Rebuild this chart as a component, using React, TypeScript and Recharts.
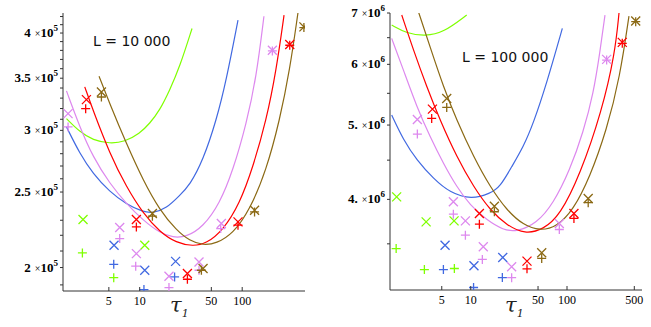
import { ComposedChart, Line, Scatter, XAxis, YAxis } from "recharts";

type P = [number, number];

const GREEN = "#7fff00";
const BLUE = "#4169e1";
const VIOLET = "#dd88ee";
const RED = "#ff0000";
const BROWN = "#8b6914";
const AXIS = "#333";

// ---- L = 10 000 ----
const green10kCurve: P[] = [[1.93, 3.106e5], [2.6, 2.987e5], [3.5, 2.914e5], [5.1, 2.885e5], [7.14, 2.9e5], [10, 2.972e5], [12.5, 3.061e5], [15.7, 3.184e5], [19.6, 3.378e5], [24.6, 3.62e5], [32.4, 4.054e5]];
const blue10kCurve: P[] = [[1.93, 3.031e5], [2.6, 2.801e5], [3.5, 2.64e5], [5.1, 2.501e5], [7.41, 2.412e5], [10.8, 2.357e5], [13.5, 2.35e5], [18.2, 2.381e5], [24.6, 2.476e5], [30.7, 2.55e5], [41.5, 2.746e5], [56, 3.091e5], [70, 3.479e5], [91, 4.155e5]];
const violet10kCurve: P[] = [[1.93, 3.371e5], [2.6, 3.031e5], [3.5, 2.773e5], [5.1, 2.563e5], [7.41, 2.416e5], [10.8, 2.3e5], [15.7, 2.216e5], [21.1, 2.185e5], [28.5, 2.189e5], [41.5, 2.255e5], [60.3, 2.416e5], [81.4, 2.666e5], [110, 3.061e5], [137.5, 3.514e5], [163, 4.204e5]];
const red10kCurve: P[] = [[2.91, 3.412e5], [3.5, 3.184e5], [5.1, 2.801e5], [7.41, 2.538e5], [10.8, 2.346e5], [15.7, 2.222e5], [22.8, 2.151e5], [33.1, 2.13e5], [44.7, 2.147e5], [65, 2.233e5], [94.5, 2.416e5], [127.5, 2.693e5], [172, 3.091e5], [215, 3.584e5], [256, 4.217e5]];
const brown10kCurve: P[] = [[4.01, 3.521e5], [5.1, 3.247e5], [7.41, 2.885e5], [10.8, 2.588e5], [15.7, 2.369e5], [22.8, 2.233e5], [30.7, 2.164e5], [41.5, 2.136e5], [56, 2.147e5], [81.4, 2.211e5], [118, 2.369e5], [172, 2.666e5], [232, 3.091e5], [291, 3.584e5], [350, 4.246e5]];

const green10kX: P[] = [[2.8, 2.305e5], [11.2, 2.136e5]];
const green10kP: P[] = [[2.76, 2.088e5], [5.58, 1.941e5]];
const blue10kX: P[] = [[5.62, 2.136e5], [11.2, 1.984e5], [22.4, 2.037e5]];
const blue10kP: P[] = [[5.58, 2.019e5], [11, 1.874e5], [21.9, 1.945e5]];
const violet10kX: P[] = [[2, 3.152e5], [6.38, 2.251e5], [9.28, 2.084e5], [19.3, 1.949e5], [37.9, 2.033e5], [62.6, 2.278e5], [197, 3.802e5]];
const violet10kP: P[] = [[2, 3.031e5], [6.38, 2.179e5], [9.14, 2.008e5], [19.3, 1.885e5], [37.9, 1.984e5], [61.7, 2.244e5], [197, 3.794e5]];
const red10kX: P[] = [[3.02, 3.285e5], [9.28, 2.305e5], [29.2, 1.965e5], [91, 2.289e5], [291, 3.866e5]];
const red10kP: P[] = [[2.97, 3.199e5], [9.28, 2.255e5], [29.2, 1.932e5], [91, 2.267e5], [291, 3.858e5]];
const brown10kX: P[] = [[4.23, 3.361e5], [13.3, 2.346e5], [41.5, 1.994e5], [132, 2.369e5], [400, 4.073e5]];
const brown10kP: P[] = [[4.23, 3.311e5], [13.3, 2.328e5], [40, 1.984e5], [132, 2.357e5], [400, 4.065e5]];

// ---- L = 100 000 ----
const green100kCurve: P[] = [[1.51, 6.751e6], [2.16, 6.584e6], [3.35, 6.531e6], [5.2, 6.598e6], [9.08, 6.957e6]];
const blue100kCurve: P[] = [[1.51, 5.152e6], [2, 4.779e6], [2.75, 4.5e6], [4.09, 4.257e6], [6.1, 4.079e6], [10.2, 3.999e6], [15.9, 4.071e6], [20.2, 4.153e6], [26.6, 4.411e6], [35.2, 4.684e6], [44.7, 5.025e6], [61.5, 5.666e6], [89.4, 6.683e6]];
const violet100kCurve: P[] = [[1.51, 6.486e6], [2, 5.898e6], [2.75, 5.282e6], [3.78, 4.827e6], [5.2, 4.455e6], [7.15, 4.153e6], [9.83, 3.931e6], [14.7, 3.758e6], [21.8, 3.648e6], [30, 3.629e6], [48.4, 3.72e6], [72.2, 3.951e6], [107, 4.366e6], [148, 4.9e6], [188, 5.498e6], [220, 6.232e6], [248, 6.957e6]];
const red100kCurve: P[] = [[1.92, 6.957e6], [2.54, 6.263e6], [3.49, 5.609e6], [4.8, 5.074e6], [7.15, 4.545e6], [10.7, 4.153e6], [15.9, 3.873e6], [23.6, 3.702e6], [36.6, 3.603e6], [56.8, 3.654e6], [84.6, 3.815e6], [136, 4.301e6], [229, 5.203e6], [315, 6.2e6], [347, 7.007e6]];
const brown100kCurve: P[] = [[2.86, 7.028e6], [3.78, 6.325e6], [5.2, 5.609e6], [7.15, 5.074e6], [10.7, 4.545e6], [15.9, 4.153e6], [23.6, 3.873e6], [35.2, 3.702e6], [52.4, 3.64e6], [78.1, 3.683e6], [116, 3.873e6], [173, 4.279e6], [258, 4.925e6], [355, 5.781e6], [440, 6.936e6]];

const green100kX: P[] = [[1.7, 4.03e6], [3.44, 3.739e6], [6.71, 3.75e6]];
const green100kP: P[] = [[1.68, 3.451e6], [3.3, 3.24e6], [6.76, 3.25e6]];
const blue100kX: P[] = [[5.41, 3.486e6], [10.8, 3.277e6], [21.5, 3.36e6]];
const blue100kP: P[] = [[5.2, 3.24e6], [10.7, 3.07e6], [21.3, 3.163e6]];
const violet100kX: P[] = [[2.79, 5.085e6], [6.6, 3.971e6], [8.8, 3.75e6], [13.5, 3.469e6], [26.6, 3.267e6], [83.2, 3.72e6], [258, 6.09e6]];
const violet100kP: P[] = [[2.79, 4.866e6], [6.6, 3.826e6], [8.8, 3.592e6], [13.2, 3.34e6], [26.6, 3.162e6], [83.2, 3.654e6], [258, 6.077e6]];
const red100kX: P[] = [[4, 5.245e6], [12.3, 3.834e6], [38.4, 3.323e6], [118, 3.834e6], [375, 6.409e6]];
const red100kP: P[] = [[3.93, 5.1e6], [12.3, 3.713e6], [38.4, 3.247e6], [118, 3.777e6], [375, 6.39e6]];
const brown100kX: P[] = [[5.63, 5.416e6], [17.6, 3.919e6], [54.6, 3.407e6], [166, 4.011e6], [517, 6.833e6]];
const brown100kP: P[] = [[5.63, 5.272e6], [17.6, 3.854e6], [54.6, 3.35e6], [166, 3.96e6], [517, 6.819e6]];

// axis ticks
const xTicks10k = [5, 10, 50, 100];
const xTicks100k = [5, 10, 50, 100, 500];
const yTicks10k = [190000, 200000, 210000, 220000, 230000, 240000, 250000, 260000, 270000, 280000, 290000, 300000, 310000, 320000, 330000, 340000, 350000, 360000, 370000, 380000, 390000, 400000, 410000, 420000];
const yLabels10k: [number, string][] = [[200000, "2"], [250000, "2.5"], [300000, "3"], [350000, "3.5"], [400000, "4"]];
const yTicks100k = [3500000, 4000000, 4500000, 5000000, 5500000, 6000000, 6500000, 7000000];
const yLabels100k: [number, string][] = [[4000000, "4."], [5000000, "5."], [6000000, "6"], [7000000, "7"]];

const pts = (a: P[]) => a.map(([x, y]) => ({ x, y }));

const SERIF = "'Liberation Serif', 'Times New Roman', serif";

const XMark = ({ cx, cy, color }: any) => (
  <path
    d={`M${cx - 4.5},${cy - 4.5}L${cx + 4.5},${cy + 4.5}M${cx - 4.5},${cy + 4.5}L${cx + 4.5},${cy - 4.5}`}
    stroke={color}
    strokeWidth={1.3}
    fill="none"
  />
);

const PlusMark = ({ cx, cy, color }: any) => (
  <path
    d={`M${cx - 4.5},${cy}L${cx + 4.5},${cy}M${cx},${cy - 4.5}L${cx},${cy + 4.5}`}
    stroke={color}
    strokeWidth={1.3}
    fill="none"
  />
);

const XTick = ({ x, y, payload }: any) => (
  <g>
    <line x1={x} x2={x} y1={y} y2={y - 4} stroke={AXIS} />
    <text x={x} y={y + 14} textAnchor="middle" fontFamily={SERIF} fontSize={12} fill="#000">
      {payload.value}
    </text>
  </g>
);

const makeYTick = (labels: [number, string][], exp: string) => ({ x, y, payload }: any) => {
  const hit = labels.find(([v]) => Math.abs(v - payload.value) < 1);
  if (!hit) return <g />;
  return (
    <text x={x} y={y + 4} textAnchor="end" fontFamily={SERIF} fontSize={13} fontWeight="bold" fill="#000">
      {hit[1]}
      <tspan dx={4} fontSize={10} fontWeight="normal">×</tspan>
      <tspan>10</tspan>
      <tspan dy={-6} fontSize={9}>{exp}</tspan>
    </text>
  );
};

interface Series {
  color: string;
  curve: P[];
  cross: P[];
  plus: P[];
}

const series10k: Series[] = [
  { color: GREEN, curve: green10kCurve, cross: green10kX, plus: green10kP },
  { color: BLUE, curve: blue10kCurve, cross: blue10kX, plus: blue10kP },
  { color: VIOLET, curve: violet10kCurve, cross: violet10kX, plus: violet10kP },
  { color: RED, curve: red10kCurve, cross: red10kX, plus: red10kP },
  { color: BROWN, curve: brown10kCurve, cross: brown10kX, plus: brown10kP },
];

const series100k: Series[] = [
  { color: GREEN, curve: green100kCurve, cross: green100kX, plus: green100kP },
  { color: BLUE, curve: blue100kCurve, cross: blue100kX, plus: blue100kP },
  { color: VIOLET, curve: violet100kCurve, cross: violet100kX, plus: violet100kP },
  { color: RED, curve: red100kCurve, cross: red100kX, plus: red100kP },
  { color: BROWN, curve: brown100kCurve, cross: brown100kX, plus: brown100kP },
];

const Panel = ({ w, h, margin, yW, xH, xDomain, yDomain, xTicks, yTicks, yLabels, exp, series }: any) => {
  const YTick = makeYTick(yLabels, exp);
  const items: any[] = [];
  // fitted curves first, measured points on top
  series.forEach((s: Series, i: number) => {
    items.push(
      <Line
        key={"c" + i}
        data={pts(s.curve)}
        dataKey="y"
        type="basis"
        stroke={s.color}
        strokeWidth={1.2}
        dot={false}
        activeDot={false}
        isAnimationActive={false}
      />
    );
  });
  series.forEach((s: Series, i: number) => {
    items.push(
      <Scatter
        key={"x" + i}
        data={pts(s.cross)}
        shape={(p: any) => <XMark cx={p.cx} cy={p.cy} color={s.color} />}
        isAnimationActive={false}
      />
    );
    items.push(
      <Scatter
        key={"p" + i}
        data={pts(s.plus)}
        shape={(p: any) => <PlusMark cx={p.cx} cy={p.cy} color={s.color} />}
        isAnimationActive={false}
      />
    );
  });
  return (
    <ComposedChart width={w} height={h} margin={margin}>
      <XAxis
        dataKey="x"
        type="number"
        scale="log"
        domain={xDomain}
        allowDataOverflow
        ticks={xTicks}
        interval={0}
        height={xH}
        tick={<XTick />}
        tickLine={false}
        tickSize={0}
        tickMargin={0}
        axisLine={{ stroke: AXIS }}
      />
      <YAxis
        dataKey="y"
        type="number"
        scale="log"
        domain={yDomain}
        allowDataOverflow
        ticks={yTicks}
        interval={0}
        width={yW}
        tick={<YTick />}
        tickSize={3}
        tickMargin={2}
        tickLine={{ stroke: AXIS }}
        axisLine={{ stroke: AXIS }}
      />
      {items}
    </ComposedChart>
  );
};

export default function App() {
  return (
    <div style={{ position: "absolute", left: 0, top: 0, width: 651, height: 327, background: "#fff" }}>
      <div style={{ position: "absolute", left: 0, top: 0 }}>
        <Panel
          w={325}
          h={327}
          margin={{ top: 13, right: 20, bottom: 0, left: 0 }}
          yW={63}
          xH={36}
          xDomain={[1.785, 410]}
          yDomain={[186600, 424400]}
          xTicks={xTicks10k}
          yTicks={yTicks10k}
          yLabels={yLabels10k}
          exp="5"
          series={series10k}
        />
      </div>
      <div style={{ position: "absolute", left: 325, top: 0 }}>
        <Panel
          w={326}
          h={327}
          margin={{ top: 13, right: 9, bottom: 0, left: 0 }}
          yW={65}
          xH={37}
          xDomain={[1.45, 601]}
          yDomain={[3047000, 7000000]}
          xTicks={xTicks100k}
          yTicks={yTicks100k}
          yLabels={yLabels100k}
          exp="6"
          series={series100k}
        />
      </div>
      <svg width={651} height={327} style={{ position: "absolute", left: 0, top: 0, pointerEvents: "none" }}>
        <text x={93} y={46} fontFamily="'DejaVu Sans', sans-serif" fontSize={14} fill="#111">L = 10 000</text>
        <text x={462} y={62} fontFamily="'DejaVu Sans', sans-serif" fontSize={14} fill="#111">L = 100 000</text>
        <text x={170} y={312} fontFamily="'DejaVu Serif', serif" fontStyle="italic" fontSize={21} fill="#222">
          τ<tspan dy={5} fontSize={11}>1</tspan>
        </text>
        <text x={505} y={312} fontFamily="'DejaVu Serif', serif" fontStyle="italic" fontSize={21} fill="#222">
          τ<tspan dy={5} fontSize={11}>1</tspan>
        </text>
      </svg>
    </div>
  );
}
